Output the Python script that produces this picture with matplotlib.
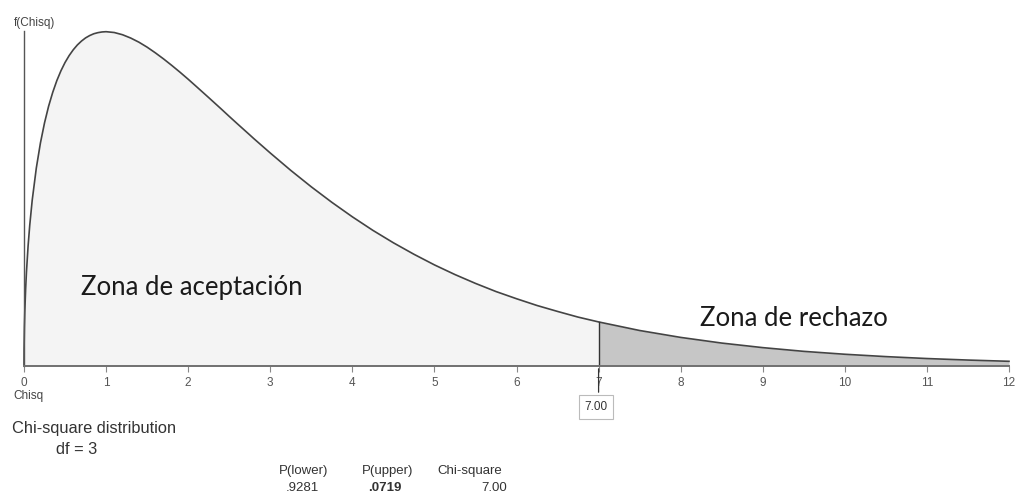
import matplotlib
matplotlib.use("Agg")
import matplotlib.pyplot as plt
import numpy as np

# Values (chi-square density, df = 3)
chisq = [0, 0.001, 0.005, 0.01, 0.02, 0.03, 0.05, 0.07, 0.1, 0.15, 0.2, 0.25,
         0.3, 0.35, 0.4, 0.45, 0.5, 0.55, 0.6, 0.65, 0.7, 0.75, 0.8, 0.85,
         0.9, 0.95, 1.0, 1.1, 1.2, 1.3, 1.4, 1.5, 1.6, 1.7, 1.8, 1.9, 2.0,
         2.1, 2.25, 2.4, 2.5, 2.6, 2.75, 2.8, 3.0, 3.25, 3.5, 3.75, 4.0, 4.25,
         4.5, 4.75, 5.0, 5.25, 5.5, 5.75, 6.0, 6.25, 6.5, 6.75, 7.0, 7.5, 8.0,
         8.5, 9.0, 9.5, 10.0, 10.5, 11.0, 11.5, 12.0]
density = [0, 0.0126, 0.0281, 0.0397, 0.0559, 0.0681, 0.0870, 0.1019, 0.1200,
           0.1433, 0.1614, 0.1760, 0.1881, 0.1981, 0.2066, 0.2137, 0.2197,
           0.2247, 0.2289, 0.2324, 0.2352, 0.2375, 0.2392, 0.2405, 0.2413,
           0.2418, 0.2420, 0.2414, 0.2398, 0.2374, 0.2344, 0.2308, 0.2267,
           0.2223, 0.2176, 0.2127, 0.2076, 0.2023, 0.1943, 0.1862, 0.1807,
           0.1753, 0.1673, 0.1646, 0.1542, 0.1416, 0.1297, 0.1185, 0.1080,
           0.0982, 0.0892, 0.0809, 0.0732, 0.0662, 0.0598, 0.0539, 0.0487,
           0.0438, 0.0395, 0.0354, 0.0319, 0.0257, 0.0207, 0.0166, 0.0133,
           0.0106, 0.0085, 0.0068, 0.0054, 0.0043, 0.0034]
critical = 7.0
tick_values = list(range(0, 13))
table_headers = ["P(lower)", "P(upper)", "Chi-square"]
table_values = [".9281", ".0719", "7.00"]

W, H = 1018, 493
fig = plt.figure(figsize=(W / 100, H / 100), dpi=100)
ax = fig.add_axes([24 / W, (H - 366) / H, 985 / W, 335 / H])

x = np.array(chisq)
y = np.array(density)
acc = x <= critical
rej = x >= critical
ax.fill_between(x[acc], 0, y[acc], color="#f4f4f4", lw=0)
ax.fill_between(x[rej], 0, y[rej], color="#c6c6c6", lw=0)
ax.plot(x, y, color="#444444", lw=1.2, clip_on=False, solid_joinstyle="round")

ax.set_xlim(0, 12)
ax.set_ylim(0, 0.2425)

for s in ["top", "right"]:
    ax.spines[s].set_visible(False)
ax.spines["left"].set_color("#555555")
ax.spines["left"].set_linewidth(1.0)
ax.spines["bottom"].set_color("#707070")
ax.spines["bottom"].set_linewidth(1.4)
ax.set_yticks([])
ax.set_xticks(tick_values)
ax.set_xticklabels([str(t) for t in tick_values], fontsize=8.5, color="#555555",
                   family="Liberation Sans")
ax.tick_params(axis="x", length=4, width=0.8, color="#888888", pad=4)

# critical line
yc = density[chisq.index(critical)]
ax.plot([critical, critical], [0, yc], color="#333333", lw=1.0)
ax.annotate("", xy=(critical, 0), xycoords="data",
            xytext=(critical, -29 / 335 * 0.2425), textcoords="data",
            arrowprops=dict(arrowstyle="-", color="#333333", lw=0.9),
            annotation_clip=False)

# value box
fig.text(596 / W, 1 - 407 / H, "7.00", ha="center", va="center", fontsize=8.5,
         color="#333333", family="Liberation Sans",
         bbox=dict(boxstyle="square,pad=0.5", fc="white", ec="#bbbbbb", lw=0.8))

# axis labels
fig.text(14 / W, 1 - 23 / H, "f(Chisq)", ha="left", va="center", fontsize=8.5,
         color="#444444", family="Liberation Sans")
fig.text(13 / W, 1 - 396 / H, "Chisq", ha="left", va="center", fontsize=8.5,
         color="#444444", family="Liberation Sans")

# zone labels
fig.text(81 / W, 1 - 287 / H, "Zona de aceptación", ha="left", va="center",
         fontsize=18.5, color="#1a1a1a", family="Lato")
fig.text(700 / W, 1 - 319 / H, "Zona de rechazo", ha="left", va="center",
         fontsize=18.5, color="#1a1a1a", family="Lato")

# description text
fig.text(12 / W, 1 - 428 / H, "Chi-square distribution", ha="left", va="center",
         fontsize=11.8, color="#333333", family="Liberation Sans")
fig.text(56 / W, 1 - 449 / H, "df = 3", ha="left", va="center",
         fontsize=11.8, color="#333333", family="Liberation Sans")

# table
hx = [304, 388, 470]
for xx, t in zip(hx, table_headers):
    fig.text(xx / W, 1 - 471 / H, t, ha="center", va="center", fontsize=9.5,
             color="#333333", family="Liberation Sans")
vx = [302, 385, 507]
has = ["center", "center", "right"]
for i, (xx, t, ha) in enumerate(zip(vx, table_values, has)):
    fig.text(xx / W, 1 - 488 / H, t, ha=ha, va="center", fontsize=9.5,
             color="#333333", family="Liberation Sans",
             fontweight="bold" if i == 1 else "normal")

fig.savefig("out.png", dpi=100)
